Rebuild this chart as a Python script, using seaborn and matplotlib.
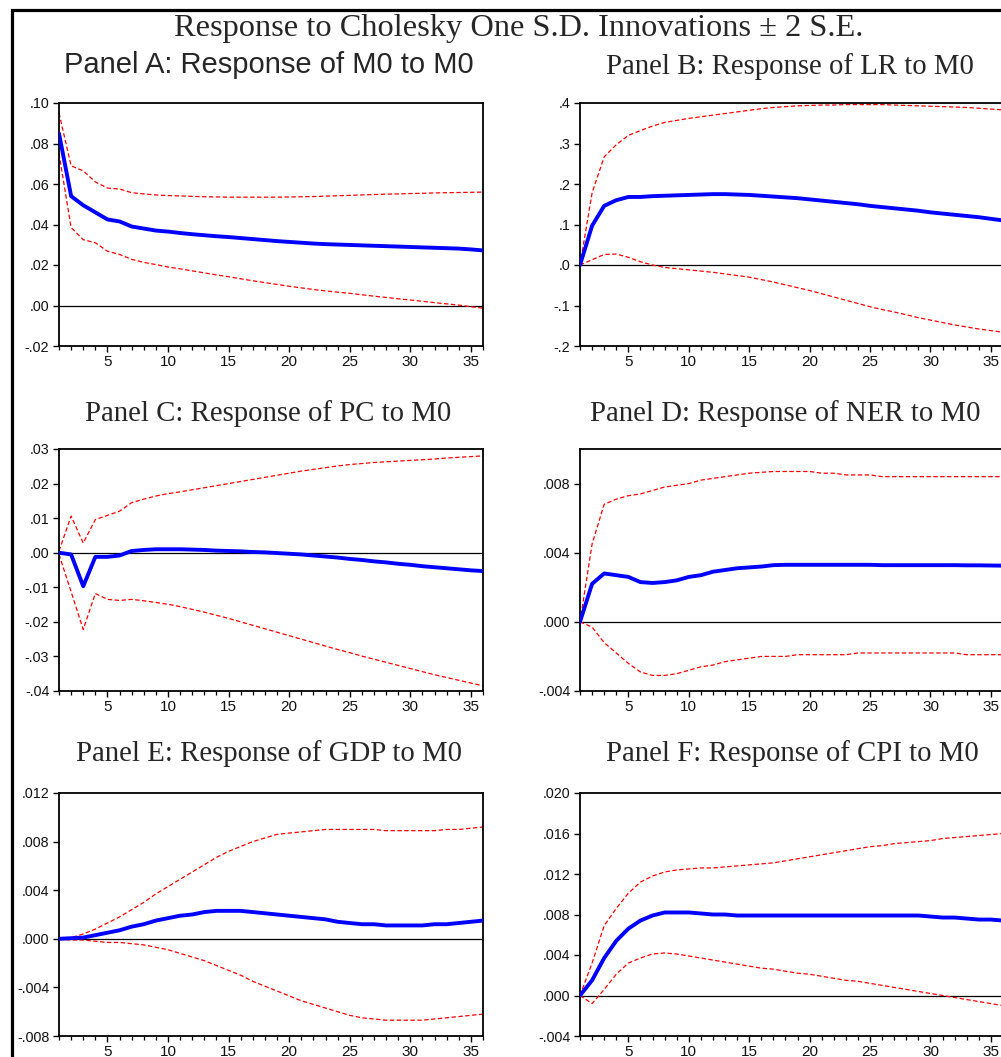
import numpy as np
import pandas as pd
import matplotlib
matplotlib.use("Agg")
import matplotlib.pyplot as plt
import seaborn as sns
from matplotlib.patches import Rectangle

sns.set_style("white")
plt.rcParams['font.family'] = ['Liberation Sans', 'DejaVu Sans']

periods = list(range(1, 37))

main_title = "Response to Cholesky One S.D. Innovations \u00b1 2 S.E."
panel_titles = ["Panel A: Response of M0 to M0", "Panel B: Response of LR to M0",
                "Panel C: Response of PC to M0", "Panel D: Response of NER to M0",
                "Panel E: Response of GDP to M0", "Panel F: Response of CPI to M0"]

# Panel A: M0 to M0
A_irf = [.085, .054, .0495, .046, .0425, .0415, .039, .038, .037, .0365, .0358, .0352,
         .0347, .0342, .0338, .0333, .0328, .0323, .0318, .0314, .031, .0306, .0303, .0301,
         .0299, .0297, .0295, .0293, .0291, .0289, .0287, .0285, .0283, .0281, .0277, .0272]
A_up = [.095, .069, .0665, .061, .058, .0575, .0557, .0551, .0546, .0543, .0541, .0539,
        .0537, .0536, .0535, .0535, .0535, .0535, .0535, .0536, .0537, .0538, .054, .0542,
        .0544, .0546, .0548, .055, .0551, .0553, .0554, .0556, .0557, .0558, .0559, .056]
A_lo = [.075, .0385, .0325, .031, .0268, .0252, .0228, .0213, .0202, .019, .0181, .0171,
        .0161, .0151, .0142, .0132, .0122, .0113, .0104, .0095, .0087, .0079, .0072, .0066,
        .006, .0053, .0046, .004, .0033, .0027, .0021, .0014, .0008, .0002, -.0006, -.0013]

# Panel B: LR to M0
B_irf = [0, .097, .146, .160, .168, .168, .170, .171, .172, .173, .174, .175, .175, .174,
         .173, .171, .169, .167, .165, .162, .159, .156, .153, .150, .146, .143, .140, .137,
         .134, .130, .127, .124, .121, .118, .114, .110]
B_up = [0, .178, .267, .297, .320, .332, .343, .352, .357, .362, .366, .370, .374, .378,
        .382, .386, .389, .391, .393, .394, .395, .395, .396, .396, .396, .396, .395, .394,
        .393, .392, .391, .390, .389, .387, .385, .383]
B_lo = [0, .013, .026, .027, .019, .008, .000, -.006, -.009, -.012, -.015, -.018, -.022,
        -.026, -.030, -.036, -.042, -.049, -.056, -.063, -.071, -.079, -.087, -.095, -.103,
        -.110, -.116, -.123, -.130, -.136, -.142, -.148, -.153, -.158, -.162, -.166]

# Panel C: PC to M0
C_irf = [0, -.0005, -.0097, -.0012, -.0012, -.0008, .0005, .0008, .001, .001, .001, .0009,
         .0008, .0006, .0005, .0004, .0002, .0001, -.0001, -.0003, -.0005, -.0008, -.0011,
         -.0014, -.0018, -.0021, -.0025, -.0028, -.0032, -.0035, -.0039, -.0042, -.0045,
         -.0048, -.0051, -.0053]
C_up = [.0005, .0106, .0028, .0096, .0108, .0120, .0145, .0155, .0164, .0171, .0176, .0182,
        .0188, .0194, .0200, .0206, .0212, .0218, .0224, .0230, .0236, .0241, .0246, .0251,
        .0255, .0258, .0261, .0263, .0265, .0267, .0269, .0271, .0274, .0276, .0278, .0280]
C_lo = [-.0005, -.0113, -.0222, -.0118, -.0135, -.0138, -.0135, -.0139, -.0144, -.0149,
        -.0156, -.0164, -.0172, -.0181, -.0190, -.0200, -.0210, -.0220, -.0230, -.0240,
        -.0250, -.0260, -.0270, -.0280, -.0289, -.0299, -.0308, -.0317, -.0326, -.0335,
        -.0344, -.0353, -.0361, -.0369, -.0377, -.0385]

# Panel D: NER to M0
D_irf = [0, .0022, .0028, .0027, .0026, .0023, .00225, .0023, .0024, .0026, .0027, .0029,
         .0030, .0031, .00315, .0032, .00328, .0033, .0033, .0033, .0033, .0033, .0033,
         .0033, .0033, .00328, .00328, .00328, .00328, .00328, .00328, .00328, .00327,
         .00327, .00326, .00325]
D_up = [0, .0045, .0068, .0071, .0073, .0074, .0076, .0078, .0079, .0080, .0082, .0083,
        .0084, .0085, .0086, .00865, .0087, .0087, .0087, .0087, .0086, .0086, .0085, .0085,
        .0085, .0084, .0084, .0084, .0084, .0084, .0084, .0084, .0084, .0084, .0084, .0084]
D_lo = [0, -.0003, -.0012, -.0018, -.0024, -.0029, -.0031, -.0031, -.0030, -.0028, -.0026,
        -.0025, -.0023, -.0022, -.0021, -.0020, -.0020, -.0020, -.0019, -.0019, -.0019,
        -.0019, -.0019, -.0018, -.0018, -.0018, -.0018, -.0018, -.0018, -.0018, -.0018,
        -.0018, -.0019, -.0019, -.0019, -.0019]

# Panel E: GDP to M0
E_irf = [0, .00005, .0001, .0003, .0005, .0007, .0010, .0012, .0015, .0017, .0019, .0020,
         .0022, .0023, .0023, .0023, .0022, .0021, .0020, .0019, .0018, .0017, .0016, .0014,
         .0013, .0012, .0012, .0011, .0011, .0011, .0011, .0012, .0012, .0013, .0014, .0015]
E_up = [0, .0001, .0004, .0008, .0013, .0018, .0024, .0030, .0037, .0043, .0049, .0055,
        .0061, .0067, .0072, .0076, .0080, .0083, .0086, .0087, .0088, .0089, .0090, .0090,
        .0090, .0090, .0090, .0089, .0089, .0089, .0089, .0089, .0090, .0090, .0091, .0092]
E_lo = [0, -.0001, -.0001, -.0002, -.0003, -.0003, -.0004, -.0005, -.0007, -.0009, -.0012,
        -.0015, -.0018, -.0022, -.0026, -.0030, -.0035, -.0039, -.0043, -.0047, -.0051,
        -.0054, -.0057, -.0060, -.0063, -.0065, -.0066, -.0067, -.0067, -.0067, -.0067,
        -.0066, -.0065, -.0064, -.0063, -.0062]

# Panel F: CPI to M0
F_irf = [0, .0015, .0037, .0054, .0066, .0074, .0079, .0082, .0082, .0082, .0081, .0080,
         .0080, .0079, .0079, .0079, .0079, .0079, .0079, .0079, .0079, .0079, .0079, .0079,
         .0079, .0079, .0079, .0079, .0079, .0078, .0077, .0077, .0076, .0075, .0075, .0074]
F_up = [0, .0032, .0069, .0086, .0101, .0112, .0118, .0122, .0124, .0125, .0126, .0126,
        .0127, .0128, .0129, .0130, .0131, .0133, .0135, .0137, .0139, .0141, .0143, .0145,
        .0147, .0148, .0150, .0151, .0152, .0153, .0155, .0156, .0157, .0158, .0159, .0160]
F_lo = [0, -.0008, .0006, .0021, .0032, .0037, .0041, .0042, .0041, .0039, .0037, .0035,
        .0033, .0031, .0029, .0027, .0026, .0024, .0022, .0021, .0019, .0017, .0015, .0014,
        .0012, .0010, .0008, .0006, .0004, .0002, .0000, -.0002, -.0004, -.0006, -.0008, -.0010]

# y-axis ticks and labels (EViews style)
A_yticks = [-.02, .00, .02, .04, .06, .08, .10]
A_ylabels = ["-.02", ".00", ".02", ".04", ".06", ".08", ".10"]
B_yticks = [-.2, -.1, .0, .1, .2, .3, .4]
B_ylabels = ["-.2", "-.1", ".0", ".1", ".2", ".3", ".4"]
C_yticks = [-.04, -.03, -.02, -.01, .00, .01, .02, .03]
C_ylabels = ["-.04", "-.03", "-.02", "-.01", ".00", ".01", ".02", ".03"]
D_yticks = [-.004, .000, .004, .008]
D_ylabels = ["-.004", ".000", ".004", ".008"]
E_yticks = [-.008, -.004, .000, .004, .008, .012]
E_ylabels = ["-.008", "-.004", ".000", ".004", ".008", ".012"]
F_yticks = [-.004, .000, .004, .008, .012, .016, .020]
F_ylabels = ["-.004", ".000", ".004", ".008", ".012", ".016", ".020"]

x_major = [5, 10, 15, 20, 25, 30, 35]
x_labels = ["5", "10", "15", "20", "25", "30", "35"]

panels = [
    (A_irf, A_up, A_lo, A_yticks, A_ylabels, (-.02, .10)),
    (B_irf, B_up, B_lo, B_yticks, B_ylabels, (-.2, .4)),
    (C_irf, C_up, C_lo, C_yticks, C_ylabels, (-.04, .03)),
    (D_irf, D_up, D_lo, D_yticks, D_ylabels, (-.004, .010)),
    (E_irf, E_up, E_lo, E_yticks, E_ylabels, (-.008, .012)),
    (F_irf, F_up, F_lo, F_yticks, F_ylabels, (-.004, .020)),
]

W, H = 1001, 1057
fig = plt.figure(figsize=(W / 100, H / 100), dpi=100)
fig.patch.set_facecolor("white")

# outer frame
fig.patches.append(Rectangle((12 / W, -0.1), 1.2, 1 - 9.5 / H + 0.1, transform=fig.transFigure,
                             fill=False, edgecolor="black", linewidth=2.3, zorder=0))

col_x = [(59, 483), (580, 1003)]
row_y = [(103, 346), (449, 691), (793, 1036)]
title_base = [(73, 74), (421, 421), (761, 761)]
title_cx = [(269, 790), (268, 785), (269, 792)]

fig.text(519 / W, 1 - 36 / H, main_title, ha="center", va="baseline",
         family=["Liberation Serif", "DejaVu Serif"], fontsize=23.3)

for i, (irf, up, lo, yt, yl, ylim) in enumerate(panels):
    r, c = divmod(i, 2)
    x0, x1 = col_x[c]
    yt0, yb0 = row_y[r]
    ax = fig.add_axes([x0 / W, 1 - yb0 / H, (x1 - x0) / W, (yb0 - yt0) / H])
    df = pd.DataFrame({"period": periods, "irf": irf, "up": up, "lo": lo})
    ax.axhline(0, color="black", linewidth=0.9, zorder=1)
    sns.lineplot(data=df, x="period", y="up", ax=ax, color="#FF0000", linewidth=0.9,
                 zorder=2).lines[-1].set_dashes((3.5, 2.0))
    sns.lineplot(data=df, x="period", y="lo", ax=ax, color="#FF0000", linewidth=0.9,
                 zorder=2).lines[-1].set_dashes((3.5, 2.0))
    sns.lineplot(data=df, x="period", y="irf", ax=ax, color="#0000FF", linewidth=2.8, zorder=3)
    ax.set_xlim(1, 36)
    ax.set_ylim(*ylim)
    ax.set_xticks(x_major)
    ax.set_xticklabels(x_labels)
    ax.set_xticks(periods, minor=True)
    ax.set_yticks(yt)
    ax.set_yticklabels(yl)
    ax.set_xlabel("")
    ax.set_ylabel("")
    ax.tick_params(axis="x", which="major", direction="out", length=4, width=1.0,
                   labelsize=11, pad=2.5, colors="black", labelcolor="#111111")
    ax.tick_params(axis="x", which="minor", direction="out", length=3, width=0.9,
                   colors="black")
    ax.tick_params(axis="y", which="major", direction="out", length=4, width=1.0,
                   labelsize=10.3, pad=3.0, colors="black", labelcolor="#111111")
    ax.tick_params(bottom=True, left=True, which="both")
    ax.tick_params(axis="y", which="minor", left=False)
    for s in ax.spines.values():
        s.set_color("black")
        s.set_linewidth(1.3)
        s.set_visible(True)
    ax.grid(False)
    ax.set_facecolor("white")

    tb = title_base[r][c]
    cx = title_cx[r][c]
    if i == 0:
        fig.text(cx / W, 1 - tb / H, panel_titles[i], ha="center", va="baseline",
                 family=["Liberation Sans", "DejaVu Sans"], fontsize=21)
    else:
        fig.text(cx / W, 1 - tb / H, panel_titles[i], ha="center", va="baseline",
                 family=["Liberation Serif", "DejaVu Serif"], fontsize=20.7)

fig.savefig("out.png", dpi=100, facecolor="white")
